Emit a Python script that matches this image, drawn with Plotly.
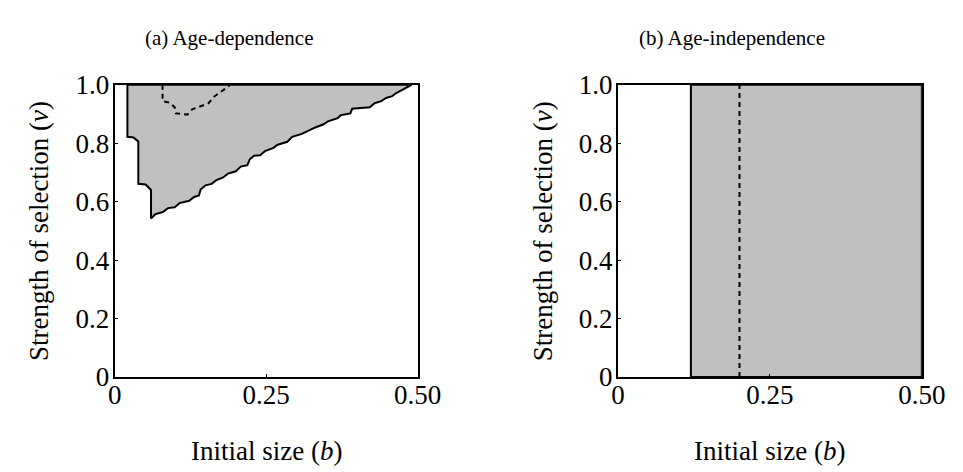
import plotly.graph_objects as go

# Panel (a): boundary of the shaded region (age-dependence)
a_region_b = [0.021, 0.021, 0.031, 0.039, 0.039, 0.051, 0.060, 0.060,
              0.067, 0.080, 0.088, 0.099, 0.107, 0.123, 0.131, 0.139, 0.142,
              0.150, 0.160, 0.168, 0.179, 0.187, 0.200, 0.208, 0.219, 0.223,
              0.230, 0.240, 0.248, 0.262, 0.269, 0.285, 0.293, 0.309, 0.320,
              0.331, 0.344, 0.352, 0.368, 0.373, 0.389, 0.392, 0.421, 0.429,
              0.440, 0.448, 0.458, 0.464, 0.474, 0.490, 0.021]
a_region_v = [1.000, 0.822, 0.820, 0.806, 0.661, 0.659, 0.640, 0.542,
              0.557, 0.565, 0.578, 0.581, 0.595, 0.603, 0.616, 0.621, 0.642,
              0.656, 0.661, 0.674, 0.683, 0.696, 0.704, 0.720, 0.725, 0.745,
              0.757, 0.759, 0.773, 0.784, 0.795, 0.805, 0.822, 0.832, 0.843,
              0.854, 0.864, 0.875, 0.886, 0.896, 0.902, 0.918, 0.923, 0.937,
              0.944, 0.955, 0.961, 0.971, 0.982, 1.000, 1.000]

# Panel (a): dashed boundary
a_dash_b = [0.079, 0.079, 0.091, 0.099, 0.101, 0.120, 0.128, 0.142, 0.155,
            0.163, 0.176, 0.188, 0.190]
a_dash_v = [1.000, 0.944, 0.939, 0.923, 0.902, 0.898, 0.916, 0.926, 0.937,
            0.958, 0.976, 0.995, 1.000]

# Panel (b): thresholds (age-independence)
b_solid = 0.12
b_dash = 0.20

x_ticks = [0, 0.25, 0.5]
x_tick_text = ["0", "0.25", "0.50"]
y_ticks = [0, 0.2, 0.4, 0.6, 0.8, 1.0]
y_tick_text = ["0", "0.2", "0.4", "0.6", "0.8", "1.0"]

titles = ["(a) Age-dependence", "(b) Age-independence"]
x_title = "Initial size (<i>b</i>)"
y_title = "Strength of selection (<i>ν</i>)"

W, H = 963, 472
FONT = "Liberation Serif, Times New Roman, serif"
GREY = "#c0c0c0"

fig = go.Figure()

fig.add_trace(go.Scatter(x=a_region_b, y=a_region_v, mode="lines", fill="toself",
                         fillcolor=GREY, line=dict(color="black", width=2),
                         xaxis="x", yaxis="y", showlegend=False, hoverinfo="skip"))
fig.add_trace(go.Scatter(x=a_dash_b, y=a_dash_v, mode="lines",
                         line=dict(color="black", width=2, dash="5px,4px"),
                         xaxis="x", yaxis="y", showlegend=False, hoverinfo="skip"))

fig.add_trace(go.Scatter(x=[b_solid, 0.5, 0.5, b_solid, b_solid], y=[0, 0, 1, 1, 0],
                         mode="lines", fill="toself", fillcolor=GREY,
                         line=dict(color="black", width=2),
                         xaxis="x2", yaxis="y2", showlegend=False, hoverinfo="skip"))
fig.add_trace(go.Scatter(x=[b_dash, b_dash], y=[0, 1], mode="lines",
                         line=dict(color="black", width=2, dash="5px,4px"),
                         xaxis="x2", yaxis="y2", showlegend=False, hoverinfo="skip"))

def px(x):
    return x / W

def py(y):
    return 1 - y / H

axis_common = dict(showline=True, mirror=True, linecolor="black", linewidth=2,
                   showgrid=False, zeroline=False, ticks="inside", ticklen=3,
                   tickcolor="black", tickfont=dict(family=FONT, size=27, color="black"))

ydom = [py(378), py(66)]
fig.update_layout(
    width=W, height=H, margin=dict(l=0, r=0, t=0, b=0),
    paper_bgcolor="white", plot_bgcolor="white",
    xaxis=dict(domain=[px(103), px(416)], range=[0, 0.5], tickvals=x_ticks,
               ticktext=x_tick_text, anchor="y", ticklabelstandoff=-7, **axis_common),
    yaxis=dict(domain=ydom, range=[0, 1], tickvals=y_ticks, ticktext=y_tick_text,
               anchor="x", ticklabelstandoff=-2, **axis_common),
    xaxis2=dict(domain=[px(623), px(937)], range=[0, 0.5], tickvals=x_ticks,
                ticktext=x_tick_text, anchor="y2", ticklabelstandoff=-7, **axis_common),
    yaxis2=dict(domain=ydom, range=[0, 1], tickvals=y_ticks, ticktext=y_tick_text,
                anchor="x2", ticklabelstandoff=-2, **axis_common),
)

ann = []
for cx, t in [(221, titles[0]), (741, titles[1])]:
    ann.append(dict(x=px(cx), y=py(16), xref="paper", yref="paper", text=t,
                    showarrow=False, xanchor="center", yanchor="middle",
                    font=dict(family=FONT, size=21, color="black")))
for cx in [259.5, 780]:
    ann.append(dict(x=px(cx), y=py(457), xref="paper", yref="paper", text=x_title,
                    showarrow=False, xanchor="center", yanchor="middle",
                    font=dict(family=FONT, size=27, color="black")))
for cx in [25, 545]:
    ann.append(dict(x=px(cx), y=py(222), xref="paper", yref="paper", text=y_title,
                    showarrow=False, xanchor="center", yanchor="middle", textangle=-90,
                    font=dict(family=FONT, size=27, color="black")))
fig.update_layout(annotations=ann)

fig.write_html("out.html")
